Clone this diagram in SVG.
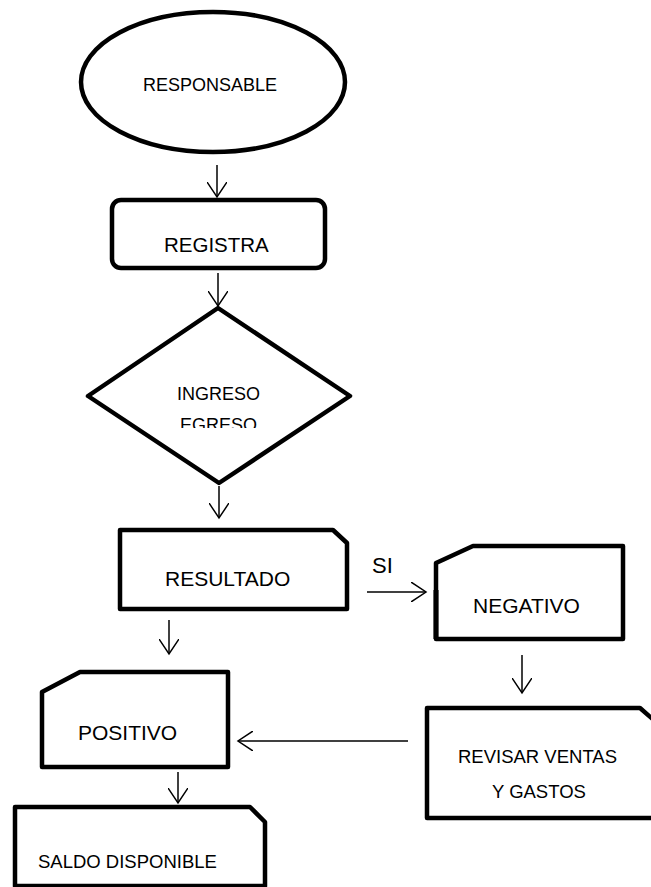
<svg xmlns="http://www.w3.org/2000/svg" width="651" height="887" viewBox="0 0 651 887">
<style>
.shape{fill:#fff;stroke:#000;stroke-width:4.5;stroke-linejoin:round}
.lbl{font-family:"Liberation Sans",Arial,sans-serif;fill:#000}
.con{fill:none;stroke:#000;stroke-width:1.5}
</style>
<defs>
<marker id="ah" viewBox="0 0 20 20" refX="15" refY="10" markerWidth="20" markerHeight="20" markerUnits="userSpaceOnUse" orient="auto">
<path d="M0,0 L15,10 L0,20" fill="none" stroke="#000" stroke-width="1.5"/>
</marker>
<clipPath id="dclip"><rect x="80" y="300" width="280" height="128"/></clipPath>
</defs>
<rect width="651" height="887" fill="#fff"/>
<g id="responsable">
<ellipse class="shape" cx="213" cy="82" rx="132" ry="70"/>
<text class="lbl" x="143" y="91" font-size="18">RESPONSABLE</text>
</g>
<g id="registra">
<rect class="shape" x="112" y="200" width="213" height="68" rx="9"/>
<text class="lbl" x="164" y="252" font-size="20.5">REGISTRA</text>
</g>
<g id="ingreso-egreso">
<path class="shape" stroke-width="5" d="M218,308 L350,396 L219,483 L88,396 Z"/>
<text class="lbl" x="177" y="400" font-size="18">INGRESO</text>
<text class="lbl" x="180" y="431" font-size="18" clip-path="url(#dclip)">EGRESO</text>
</g>
<g id="resultado">
<path class="shape" d="M120,530 L333,530 L347,543 L347,609 L120,609 Z"/>
<text class="lbl" x="165" y="586" font-size="21">RESULTADO</text>
</g>
<g id="negativo">
<path class="shape" d="M436,563 L473,546 L623,546 L623,639 L436,639 Z"/>
<line x1="436" y1="590" x2="436" y2="639" stroke="#000" stroke-width="5"/>
<text class="lbl" x="473" y="613" font-size="21">NEGATIVO</text>
</g>
<g id="revisar">
<path class="shape" d="M427,708 L640,708 L656,722 L656,818 L427,818 Z"/>
<text class="lbl" x="458" y="763" font-size="18.5">REVISAR VENTAS</text>
<text class="lbl" x="492" y="798" font-size="18.5">Y GASTOS</text>
</g>
<g id="positivo">
<path class="shape" d="M42,692 L80,672 L228,672 L228,767 L42,767 Z"/>
<text class="lbl" x="78" y="740" font-size="21">POSITIVO</text>
</g>
<g id="saldo">
<path class="shape" d="M15,807 L250,807 L265,822 L265,886 L15,886 Z"/>
<text class="lbl" x="38" y="868" font-size="18.5">SALDO DISPONIBLE</text>
</g>
<g id="connectors">
<line class="con" x1="217" y1="165" x2="217" y2="197" marker-end="url(#ah)"/>
<line class="con" x1="218" y1="273" x2="218" y2="306" marker-end="url(#ah)"/>
<line class="con" x1="219" y1="486" x2="219" y2="518" marker-end="url(#ah)"/>
<line class="con" x1="367" y1="592" x2="426" y2="592" marker-end="url(#ah)"/>
<text class="lbl" x="372" y="573" font-size="22">SI</text>
<line class="con" x1="169" y1="620" x2="169" y2="654" marker-end="url(#ah)"/>
<line class="con" x1="522" y1="655" x2="522" y2="693" marker-end="url(#ah)"/>
<line class="con" x1="408" y1="741" x2="238" y2="741" marker-end="url(#ah)"/>
<line class="con" x1="178" y1="772" x2="178" y2="803" marker-end="url(#ah)"/>
</g>
</svg>
